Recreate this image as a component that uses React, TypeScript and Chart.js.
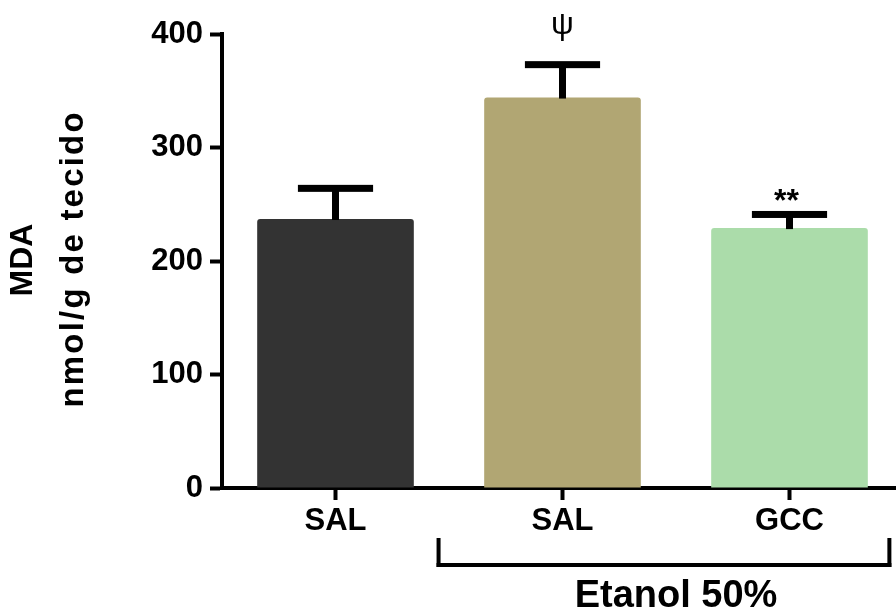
import React, { useEffect, useRef } from 'react';
import { Chart, registerables } from 'chart.js';

Chart.register(...registerables);

const categories = ['SAL', 'SAL', 'GCC'];
const meanValues = [237, 344, 229];
const semValues = [27, 29, 12];
const barColors = ['#333333', '#B1A673', '#ABDCAA'];
const yTicks = [0, 100, 200, 300, 400];
const significance = ['', 'ψ', '**'];
const groupLabel = 'Etanol 50%';
const yTitle = ['MDA', 'nmol/g de tecido'];

const FONT = '"Liberation Sans", Arial, Helvetica, sans-serif';

const overlayPlugin = {
  id: 'overlayPlugin',
  afterDatasetsDraw(chart: any) {
    const ctx = chart.ctx;
    const y = chart.scales.y;
    const meta = chart.getDatasetMeta(0);
    ctx.save();
    ctx.fillStyle = '#000';
    meta.data.forEach((bar: any, i: number) => {
      const cx = bar.x;
      const top = y.getPixelForValue(meanValues[i]);
      const errY = y.getPixelForValue(meanValues[i] + semValues[i]);
      const half = bar.width * 0.24;
      ctx.fillRect(cx - 3.5, errY, 7, top - errY + 1);
      ctx.fillRect(cx - half, errY - 3.5, 2 * half, 7);
      const s = significance[i];
      if (s === 'ψ') {
        ctx.font = `32px ${FONT}`;
        ctx.textAlign = 'center';
        ctx.textBaseline = 'alphabetic';
        ctx.fillText(s, cx, errY - 31);
      } else if (s) {
        ctx.font = `bold 32px ${FONT}`;
        ctx.textAlign = 'center';
        ctx.textBaseline = 'alphabetic';
        ctx.fillText(s, cx - 3, errY - 3);
      }
    });
    ctx.restore();
  },
  afterDraw(chart: any) {
    const ctx = chart.ctx;
    const x = chart.scales.x;
    const { top: areaTop, bottom } = chart.chartArea;
    const p1 = x.getPixelForValue(1);
    const p2 = x.getPixelForValue(2);
    const cw = p2 - p1;
    const left = p1 - 0.546 * cw;
    const right = p2 + 0.44 * cw;
    const vTop = bottom + 50;
    const hY = bottom + 77;
    ctx.save();
    ctx.fillStyle = '#000';
    ctx.fillRect(left - 2, vTop, 4, hY - vTop + 2);
    ctx.fillRect(right - 2, vTop, 4, hY - vTop + 2);
    ctx.fillRect(left - 2, hY - 2, right - left + 4, 4);
    ctx.font = `bold 38px ${FONT}`;
    ctx.textAlign = 'center';
    ctx.textBaseline = 'middle';
    ctx.fillText(groupLabel, (p1 + p2) / 2, bottom + 109);

    // y-axis title (two lines, rotated)
    const cy = (areaTop + bottom) / 2 - 1;
    const lines = [
      { text: yTitle[0], x: 23, size: 32, spacing: 0 },
      { text: yTitle[1], x: 74, size: 33, spacing: 2.2 },
    ];
    lines.forEach((ln) => {
      ctx.save();
      ctx.translate(ln.x, cy);
      ctx.rotate(-Math.PI / 2);
      ctx.font = `bold ${ln.size}px ${FONT}`;
      (ctx as any).letterSpacing = `${ln.spacing}px`;
      ctx.textAlign = 'center';
      ctx.textBaseline = 'middle';
      ctx.fillText(ln.text, ln.spacing / 2, 0);
      ctx.restore();
    });
    ctx.restore();
  },
};

export default function App() {
  const canvasRef = useRef<HTMLCanvasElement | null>(null);

  useEffect(() => {
    if (!canvasRef.current) return;
    Chart.defaults.font.family = FONT;
    const chart = new Chart(canvasRef.current, {
      type: 'bar',
      data: {
        labels: categories,
        datasets: [
          {
            data: meanValues,
            backgroundColor: barColors,
            borderRadius: 3,
            barPercentage: 0.69,
            categoryPercentage: 1,
          },
        ],
      },
      options: {
        animation: false,
        responsive: false,
        devicePixelRatio: 1,
        layout: { padding: { top: 34, right: 7, left: 0, bottom: 0 } },
        plugins: {
          legend: { display: false },
          tooltip: { enabled: false },
        },
        scales: {
          x: {
            offset: true,
            ticks: {
              font: { size: 31, weight: 'bold' },
              color: '#000',
              padding: 3,
            },
            grid: {
              offset: false,
              drawOnChartArea: false,
              drawTicks: true,
              tickLength: 12,
              tickWidth: 4,
              tickColor: '#000',
            },
            border: { display: true, width: 4, color: '#000' },
            afterFit: (s: any) => {
              s.height = 127;
            },
          },
          y: {
            min: 0,
            max: 400,
            afterBuildTicks: (s: any) => {
              s.ticks = yTicks.map((v) => ({ value: v }));
            },
            ticks: {
              font: { size: 31, weight: 'bold' },
              color: '#000',
              padding: 7,
            },
            grid: {
              drawOnChartArea: false,
              drawTicks: true,
              tickLength: 12,
              tickWidth: 4,
              tickColor: '#000',
            },
            border: { display: true, width: 4, color: '#000' },
            title: { display: false },
            afterFit: (s: any) => {
              s.width = 222;
            },
          },
        },
      },
      plugins: [overlayPlugin],
    } as any);
    return () => chart.destroy();
  }, []);

  return (
    <div
      style={{
        position: 'absolute',
        left: 0,
        top: 0,
        width: 896,
        height: 615,
        overflow: 'hidden',
        background: '#fff',
      }}
    >
      <canvas ref={canvasRef} width={910} height={615} />
    </div>
  );
}
